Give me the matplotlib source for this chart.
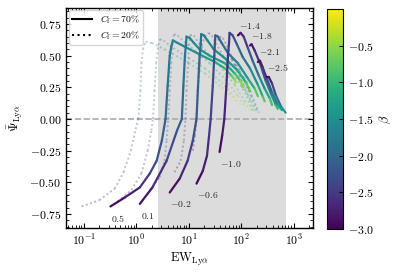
import numpy as np
import matplotlib
matplotlib.use("Agg")
import matplotlib.pyplot as plt
from matplotlib.collections import LineCollection
from matplotlib.colors import Normalize
from matplotlib.lines import Line2D
from matplotlib.ticker import MultipleLocator, FuncFormatter
import matplotlib.cm as cm

plt.rcParams.update({
    "font.family": "serif",
    "font.serif": ["cmr10"],
    "mathtext.fontset": "cm",
    "axes.formatter.use_mathtext": True,
    "axes.unicode_minus": True,
})

# ---------------- data: C_f = 70% (solid) ----------------
labels_70 = ["0.5", "0.1", "-0.2", "-0.6", "-1.0", "-1.4", "-1.8", "-2.1", "-2.5"]

logew_70_a = [-0.49, -0.22, 0.07, 0.26, 0.39, 0.49, 0.56, 0.60, 0.64, 0.67, 0.70, 0.93, 1.21, 1.50, 1.69, 1.82, 1.88, 1.90]
psi_70_a = [-0.69, -0.62, -0.54, -0.43, -0.33, -0.17, 0.00, 0.26, 0.50, 0.57, 0.62, 0.57, 0.51, 0.45, 0.40, 0.34, 0.31, 0.29]
beta_70_a = [-3.0, -2.85, -2.65, -2.45, -2.3, -2.15, -2.0, -1.9, -1.8, -1.75, -1.7, -1.6, -1.45, -1.25, -1.05, -0.8, -0.55, -0.3]

logew_70_b = [0.07, 0.31, 0.58, 0.78, 0.87, 0.90, 0.93, 0.95, 0.96, 1.02, 1.10, 1.21, 1.40, 1.69, 1.88, 1.99, 2.03]
psi_70_b = [-0.67, -0.54, -0.33, -0.09, 0.00, 0.26, 0.50, 0.59, 0.65, 0.64, 0.60, 0.55, 0.50, 0.44, 0.36, 0.30, 0.25]
beta_70_b = [-3.0, -2.75, -2.45, -2.2, -2.05, -1.95, -1.85, -1.8, -1.75, -1.7, -1.62, -1.55, -1.45, -1.3, -1.05, -0.7, -0.35]

logew_70_c = [0.64, 0.83, 0.98, 1.08, 1.15, 1.18, 1.21, 1.23, 1.24, 1.29, 1.36, 1.48, 1.69, 1.94, 2.09, 2.17]
psi_70_c = [-0.58, -0.47, -0.33, -0.17, 0.00, 0.26, 0.50, 0.59, 0.67, 0.66, 0.62, 0.55, 0.48, 0.38, 0.29, 0.22]
beta_70_c = [-3.0, -2.8, -2.55, -2.35, -2.2, -2.05, -1.95, -1.9, -1.85, -1.8, -1.72, -1.62, -1.5, -1.3, -1.0, -0.5]

logew_70_d = [1.15, 1.27, 1.35, 1.39, 1.42, 1.46, 1.49, 1.50, 1.51, 1.56, 1.63, 1.75, 1.94, 2.13, 2.26, 2.32]
psi_70_d = [-0.51, -0.41, -0.29, -0.13, 0.00, 0.26, 0.50, 0.59, 0.66, 0.65, 0.60, 0.52, 0.44, 0.32, 0.24, 0.18]
beta_70_d = [-3.0, -2.85, -2.7, -2.55, -2.45, -2.35, -2.25, -2.2, -2.15, -2.1, -2.0, -1.85, -1.65, -1.35, -1.0, -0.55]

logew_70_e = [1.59, 1.64, 1.68, 1.72, 1.75, 1.77, 1.78, 1.84, 1.92, 2.03, 2.17, 2.32, 2.41, 2.45]
psi_70_e = [-0.26, -0.13, 0.00, 0.26, 0.50, 0.60, 0.68, 0.66, 0.59, 0.49, 0.40, 0.27, 0.18, 0.14]
beta_70_e = [-3.0, -2.85, -2.75, -2.65, -2.55, -2.5, -2.45, -2.35, -2.15, -1.95, -1.7, -1.35, -1.0, -0.6]

logew_70_f = [1.94, 1.99, 2.05, 2.13, 2.22, 2.34, 2.45, 2.55, 2.59]
psi_70_f = [0.66, 0.68, 0.65, 0.56, 0.46, 0.34, 0.24, 0.16, 0.11]
beta_70_f = [-3.0, -2.85, -2.65, -2.4, -2.1, -1.8, -1.45, -1.1, -0.7]

logew_70_g = [2.17, 2.20, 2.26, 2.36, 2.47, 2.59, 2.66, 2.70]
psi_70_g = [0.58, 0.59, 0.54, 0.44, 0.30, 0.18, 0.11, 0.08]
beta_70_g = [-3.0, -2.9, -2.7, -2.4, -2.0, -1.6, -1.2, -0.8]

logew_70_h = [2.32, 2.36, 2.41, 2.49, 2.59, 2.70, 2.78]
psi_70_h = [0.45, 0.46, 0.41, 0.32, 0.21, 0.11, 0.07]
beta_70_h = [-3.0, -2.9, -2.7, -2.4, -2.0, -1.5, -1.0]

logew_70_i = [2.49, 2.53, 2.59, 2.66, 2.76, 2.85]
psi_70_i = [0.33, 0.33, 0.28, 0.19, 0.10, 0.05]
beta_70_i = [-3.0, -2.9, -2.6, -2.2, -1.7, -1.1]

# ---------------- data: C_f = 20% (dotted) ----------------
logew_20_a = [-1.04, -0.70, -0.41, -0.24, -0.10, -0.01, 0.04, 0.08, 0.10, 0.13, 0.18, 0.30, 0.54, 0.93, 1.31, 1.63, 1.82, 1.90]
psi_20_a = [-0.69, -0.64, -0.55, -0.42, -0.25, -0.08, 0.00, 0.22, 0.44, 0.55, 0.61, 0.60, 0.55, 0.46, 0.36, 0.25, 0.18, 0.14]
beta_20_a = [-3.0, -2.8, -2.6, -2.45, -2.3, -2.2, -2.15, -2.05, -1.95, -1.9, -1.85, -1.75, -1.55, -1.25, -0.9, -0.6, -0.4, -0.25]

logew_20_b = [-0.35, -0.09, 0.10, 0.22, 0.29, 0.32, 0.35, 0.38, 0.41, 0.45, 0.52, 0.64, 0.93, 1.31, 1.63, 1.86, 1.99]
psi_20_b = [-0.65, -0.56, -0.43, -0.25, -0.09, 0.00, 0.22, 0.44, 0.55, 0.63, 0.62, 0.58, 0.50, 0.40, 0.29, 0.18, 0.11]
beta_20_b = [-3.0, -2.8, -2.6, -2.4, -2.25, -2.15, -2.05, -2.0, -1.95, -1.9, -1.85, -1.75, -1.5, -1.15, -0.8, -0.5, -0.25]

logew_20_c = [0.26, 0.45, 0.54, 0.58, 0.61, 0.64, 0.67, 0.69, 0.72, 0.79, 0.91, 1.12, 1.40, 1.71, 1.94, 2.09]
psi_20_c = [-0.56, -0.46, -0.33, -0.17, 0.00, 0.22, 0.44, 0.58, 0.67, 0.66, 0.61, 0.54, 0.44, 0.31, 0.18, 0.09]
beta_20_c = [-3.0, -2.75, -2.55, -2.4, -2.3, -2.2, -2.15, -2.1, -2.05, -2.0, -1.9, -1.7, -1.4, -1.0, -0.6, -0.3]

logew_20_d = [0.73, 0.85, 0.91, 0.94, 0.96, 0.99, 1.01, 1.03, 1.10, 1.19, 1.36, 1.59, 1.88, 2.07, 2.17]
psi_20_d = [-0.42, -0.33, -0.17, 0.00, 0.22, 0.44, 0.58, 0.66, 0.66, 0.60, 0.52, 0.42, 0.27, 0.14, 0.07]
beta_20_d = [-3.0, -2.8, -2.6, -2.5, -2.4, -2.35, -2.3, -2.25, -2.2, -2.1, -1.9, -1.6, -1.15, -0.7, -0.35]

logew_20_e = [1.08, 1.12, 1.15, 1.17, 1.21, 1.25, 1.31, 1.38, 1.44, 1.52, 1.67, 1.86, 2.07, 2.22]
psi_20_e = [-0.25, -0.13, 0.00, 0.22, 0.44, 0.58, 0.65, 0.68, 0.66, 0.60, 0.49, 0.36, 0.21, 0.06]
beta_20_e = [-3.0, -2.9, -2.8, -2.75, -2.7, -2.65, -2.6, -2.55, -2.45, -2.3, -2.0, -1.6, -1.1, -0.5]

logew_20_f = [1.56, 1.59, 1.65, 1.73, 1.84, 1.98, 2.13, 2.26]
psi_20_f = [0.62, 0.65, 0.64, 0.58, 0.47, 0.34, 0.18, 0.05]
beta_20_f = [-3.0, -2.9, -2.8, -2.55, -2.2, -1.7, -1.1, -0.5]

logew_20_g = [1.73, 1.77, 1.82, 1.92, 2.05, 2.19, 2.30]
psi_20_g = [0.50, 0.51, 0.47, 0.38, 0.26, 0.14, 0.05]
beta_20_g = [-3.0, -2.9, -2.7, -2.3, -1.8, -1.2, -0.6]

logew_20_h = [1.88, 1.92, 1.98, 2.07, 2.19, 2.32]
psi_20_h = [0.42, 0.43, 0.38, 0.29, 0.18, 0.05]
beta_20_h = [-3.0, -2.9, -2.6, -2.2, -1.6, -0.9]

logew_20_i = [2.01, 2.05, 2.11, 2.20, 2.34]
psi_20_i = [0.33, 0.33, 0.29, 0.19, 0.05]
beta_20_i = [-3.0, -2.9, -2.6, -2.1, -1.2]

# shaded EW range and colour scale
shade_ew = (2.6, 720.0)
beta_min, beta_max = -3.0, 0.0
cbar_ticks = [-3.0, -2.5, -2.0, -1.5, -1.0, -0.5]

curves_70 = [
    (logew_70_a, psi_70_a, beta_70_a), (logew_70_b, psi_70_b, beta_70_b),
    (logew_70_c, psi_70_c, beta_70_c), (logew_70_d, psi_70_d, beta_70_d),
    (logew_70_e, psi_70_e, beta_70_e), (logew_70_f, psi_70_f, beta_70_f),
    (logew_70_g, psi_70_g, beta_70_g), (logew_70_h, psi_70_h, beta_70_h),
    (logew_70_i, psi_70_i, beta_70_i),
]
curves_20 = [
    (logew_20_a, psi_20_a, beta_20_a), (logew_20_b, psi_20_b, beta_20_b),
    (logew_20_c, psi_20_c, beta_20_c), (logew_20_d, psi_20_d, beta_20_d),
    (logew_20_e, psi_20_e, beta_20_e), (logew_20_f, psi_20_f, beta_20_f),
    (logew_20_g, psi_20_g, beta_20_g), (logew_20_h, psi_20_h, beta_20_h),
    (logew_20_i, psi_20_i, beta_20_i),
]

norm = Normalize(vmin=beta_min, vmax=beta_max)
cmap = plt.get_cmap("viridis")

fig = plt.figure(figsize=(3.99, 2.72), dpi=100)
ax = fig.add_axes([0.1654, 0.1618, 0.6191, 0.8106])
cax = fig.add_axes([0.8195, 0.158, 0.0401, 0.809])

ax.set_xscale("log")
ax.set_xlim(0.046, 2350)
ax.set_ylim(-0.86, 0.88)

ax.axvspan(*shade_ew, color="#dcdcdc", lw=0, zorder=0)
ax.axhline(0.0, color="#aaaaaa", ls="--", lw=1.2, zorder=1)


def add_curve(logew, psi, beta, ls, alpha, lw, cap):
    x = np.power(10.0, np.asarray(logew))
    y = np.asarray(psi)
    b = np.asarray(beta)
    pts = np.column_stack([x, y]).reshape(-1, 1, 2)
    segs = np.concatenate([pts[:-1], pts[1:]], axis=1)
    bmid = 0.5 * (b[:-1] + b[1:])
    lc = LineCollection(segs, cmap=cmap, norm=norm, linestyles=ls,
                        linewidths=lw, alpha=alpha, capstyle=cap, zorder=2)
    lc.set_array(bmid)
    ax.add_collection(lc)


for lx, py, bb in curves_20:
    add_curve(lx, py, bb, (0, (1.0, 1.3)), 0.32, 1.4, "butt")
for lx, py, bb in curves_70:
    add_curve(lx, py, bb, "-", 1.0, 1.6, "round")

# labels for each C_f = 70% curve, placed at its starting point
for k, (lx, py, bb) in enumerate(curves_70):
    txt = "$" + labels_70[k] + "$"
    x0, y0 = 10 ** lx[0], py[0]
    dy = -8.5 if k < 5 else 7
    ax.annotate(txt, (x0, y0), xytext=(0.5, dy), textcoords="offset points",
                ha="left", va="center", fontsize=7, color="0.15")

ax.set_xlabel(r"$\mathrm{EW}_{\mathrm{Ly}\alpha}$", fontsize=9, labelpad=2)
ax.set_ylabel(r"$\bar{\Psi}_{\mathrm{Ly}\alpha}$", fontsize=9, labelpad=3)

ax.yaxis.set_major_locator(MultipleLocator(0.25))
ax.yaxis.set_minor_locator(MultipleLocator(0.05))
ax.tick_params(which="both", direction="in", top=True, right=True, labelsize=8.5)
ax.tick_params(which="major", length=3.5, width=0.8)
ax.tick_params(which="minor", length=2, width=0.6)
for s in ax.spines.values():
    s.set_linewidth(1.0)

handles = [Line2D([], [], color="k", lw=1.5, ls="-"),
           Line2D([], [], color="k", lw=1.5, ls=":")]
ax.legend(handles, [r"$C_{\rm f}=70\%$", r"$C_{\rm f}=20\%$"], loc="upper left",
          fontsize=7, handlelength=2.0, borderpad=0.35, labelspacing=0.25,
          borderaxespad=0.3, framealpha=0.8)

sm = cm.ScalarMappable(norm=norm, cmap=cmap)
cb = fig.colorbar(sm, cax=cax, ticks=cbar_ticks)
cb.ax.yaxis.set_major_formatter(FuncFormatter(lambda v, p: "$%.1f$" % v))
cb.ax.tick_params(direction="in", labelsize=8.5, length=3, width=0.8)
cb.set_label(r"$\beta$", fontsize=9, labelpad=3)

fig.savefig("out.png", dpi=100)
